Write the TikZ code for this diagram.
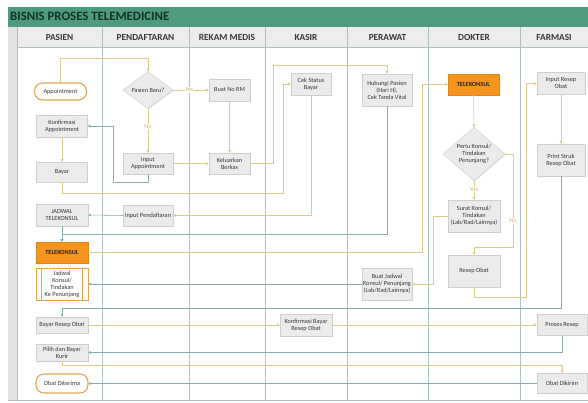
\documentclass[tikz,border=0pt]{standalone}
\usepackage{fontspec}
\setmainfont{Carlito}
\usetikzlibrary{arrows.meta,shapes.geometric,shadows}
\definecolor{titlegreen}{HTML}{4F9B7E}
\definecolor{titletext}{HTML}{16302A}
\definecolor{hdrfill}{HTML}{EDEDED}
\definecolor{stripfill}{HTML}{E3E3E3}
\definecolor{lanecol}{HTML}{AFC0C0}
\definecolor{boxfill}{HTML}{EBEBEB}
\definecolor{boxline}{HTML}{CFCFCF}
\definecolor{txtcol}{HTML}{383838}
\definecolor{yel}{HTML}{DCCB8A}
\definecolor{yeltxt}{HTML}{C8B46A}
\definecolor{teal}{HTML}{86AEAE}
\definecolor{orgfill}{HTML}{F7941E}
\definecolor{orgline}{HTML}{E3A552}
\tikzset{
  base/.style={align=center, inner sep=1pt, text=txtcol, font=\fontsize{6.3}{7}\selectfont},
  proc/.style={base, rectangle, fill=boxfill, draw=boxline, line width=0.4pt,
    drop shadow={shadow xshift=0.7pt, shadow yshift=-0.7pt, opacity=0.25}},
  term/.style={base, rectangle, rounded corners=8pt, fill=white, draw=orgline, line width=1.1pt},
  orangebox/.style={base, rectangle, fill=orgfill, draw=orgfill!90!black, line width=0.4pt,
    font=\fontsize{6.3}{7}\selectfont\bfseries, text=black!85},
  predef/.style={base, rectangle, fill=white, draw=orgline, line width=0.8pt},
  dec/.style={base, diamond, fill=boxfill, draw=boxline, line width=0.4pt, inner sep=0pt,
    drop shadow={shadow xshift=0.7pt, shadow yshift=-0.7pt, opacity=0.25}},
  wh/.style 2 args={minimum width=#1pt, minimum height=#2pt},
  yl/.style={draw=yel, line width=0.55pt, -{Triangle[length=2.6pt,width=2.6pt]}},
  tl/.style={draw=teal, line width=0.55pt, -{Triangle[length=2.6pt,width=2.6pt]}},
  lbl/.style={font=\fontsize{6}{6.5}\selectfont, text=yeltxt, fill=white, inner sep=0.6pt},
  lane/.style={draw=lanecol, line width=0.7pt},
  hdr/.style={font=\fontsize{9.3}{10}\selectfont\bfseries, text=black!78}
}
\begin{document}
\begin{tikzpicture}[x=1pt, y=-1pt]
\useasboundingbox (0,0) rectangle (588,403);
\fill[white] (0,0) rectangle (588,403);
% title bar
\fill[titlegreen] (8,7) rectangle (588,27);
\node[anchor=west, font=\fontsize{12.8}{13}\selectfont\bfseries, text=titletext, inner sep=0pt] (title) at (10,16.5) {BISNIS PROSES TELEMEDICINE};
% header and strip
\fill[hdrfill] (17,27) rectangle (588,47);
\fill[stripfill] (8,27) rectangle (17,400);
\draw[lane] (17,47) -- (588,47);
\foreach \x in {17,102,189,265,347,428,520} { \draw[lane] (\x,27) -- (\x,400); }
\draw[lane] (8,400) -- (588,400);
\node[hdr] (hpas) at (59.5,37) {PASIEN};
\node[hdr] (hpen) at (145.5,37) {PENDAFTARAN};
\node[hdr] (hrek) at (227,37) {REKAM MEDIS};
\node[hdr] (hkas) at (306,37) {KASIR};
\node[hdr] (hper) at (387.5,37) {PERAWAT};
\node[hdr] (hdok) at (474,37) {DOKTER};
\node[hdr] (hfar) at (554,37) {FARMASI};

% PASIEN
\node[term, wh={52}{17}] (appt) at (60.5,91.5) {Appointment};
\node[proc, wh={51}{22}] (konf) at (62,126) {Konfirmasi\\Appointment};
\node[proc, wh={51}{20}] (bayar) at (62,172) {Bayar};
\node[proc, wh={52}{22}] (jadwal) at (62,215) {JADWAL\\TELEKONSUL};
\node[orangebox, wh={52}{21}] (tk1) at (62,252.5) {TELEKONSUL};
\node[predef, wh={52}{32}] (jk) at (62,284) {Jadwal\\Konsul/\\Tindakan\\Ke Penunjang};
\draw[draw=orgline, line width=0.6pt] ([xshift=6pt]jk.north west) -- ([xshift=6pt]jk.south west);
\draw[draw=orgline, line width=0.6pt] ([xshift=-6pt]jk.north east) -- ([xshift=-6pt]jk.south east);
\node[proc, wh={52}{16}] (bro) at (62,325) {Bayar Resep Obat};
\node[proc, wh={52}{17}] (pilih) at (62,352.5) {Pilih dan Bayar\\Kurir};
\node[term, wh={52}{19}] (diterima) at (62,383.5) {Obat Diterima};

% PENDAFTARAN
\node[dec, wh={50}{30}] (baru) at (148,90) {Pasien Baru?};
\node[proc, wh={50}{21}] (inputa) at (148,163.5) {Input\\Appointment};
\node[proc, wh={50}{21}] (inputp) at (148,215.5) {Input Pendaftaran};

% REKAM MEDIS
\node[proc, wh={41}{22}] (rm) at (229.5,90) {Buat No RM};
\node[proc, wh={41}{21}] (berkas) at (229.5,163.5) {Keluarkan\\Berkas};

% KASIR
\node[proc, wh={40}{22}] (cek) at (311,84) {Cek Status\\Bayar};
\node[proc, wh={52}{22}] (konfb) at (306,325) {Konfirmasi Bayar\\Resep Obat};

% PERAWAT
\node[proc, wh={50}{32}] (hub) at (387,90) {Hubungi Pasien\\(Hari H),\\Cek Tanda Vital};
\node[proc, wh={50}{32}] (bj) at (387,284) {Buat Jadwal\\Konsul/ Penunjang\\(Lab/Rad/Lainnya)};

% DOKTER
\node[orangebox, wh={51}{21}] (tk2) at (473.5,84.5) {TELEKONSUL};
\node[dec, wh={62}{44}] (perlu) at (474,154) {Perlu Konsul/\\Tindakan\\Penunjang?};
\node[proc, wh={52}{32}] (surat) at (474,216) {Surat Konsul/\\Tindakan\\(Lab/Rad/Lainnya)};
\node[proc, wh={52}{32}] (resep) at (474,271) {Resep Obat};

% FARMASI
\node[proc, wh={48}{22}] (inro) at (561,83.5) {Input Resep\\Obat};
\node[proc, wh={48}{32}] (print) at (561,160) {Print Struk\\Resep Obat};
\node[proc, wh={50}{21}] (proses) at (562,325) {Proses Resep};
\node[proc, wh={50}{20}] (dikirim) at (562,383.5) {Obat Dikirim};

% connectors
\draw[yl] (appt.north) -- (appt.north |- 0,58) -- (baru.north |- 0,58) -- (baru.north);
\draw[yl] (baru.east) -- node[lbl, pos=0.45]{Yes} (rm.west);
\draw[yl] (baru.south) -- node[lbl, pos=0.4]{No} (inputa.north);
\draw[yl] (rm.south) -- (berkas.north);
\draw[yl] (inputa.east) -- (berkas.west);
\draw[tl] (inputa.south) -- (inputa.south |- 0,182) -- (113,182) |- (konf.east);
\draw[yl] (konf.south) -- (bayar.north);
\draw[yl] (bayar.south) -- (bayar.south |- 0,193) -- (283,193) |- (cek.west);
\draw[yl] (berkas.east) -- (273,163.5) -- (273,65) -| (hub.north);
\draw[yl] (cek.south) |- (inputp.east);
\draw[tl] (inputp.west) -- (jadwal.east);
\draw[tl] (jadwal.south) -- (tk1.north);
\draw[tl] (hub.south) |- (tk1.north |- 0,234) -- (tk1.north);
\draw[yl] (tk1.east) -- (422,252.5) |- (tk2.west);
\draw[yl] (tk2.south) -- (perlu.north);
\draw[yl] (perlu.south) -- node[lbl, pos=0.45]{Yes} (surat.north);
\draw[yl] (perlu.east) -- (513,154) -- node[lbl, pos=0.72]{No} (513,247) -| (resep.north);
\draw[yl] (surat.west) -- (433,216) |- (bj.east);
\draw[tl] (bj.west) -- (jk.east);
\draw[yl] (resep.south) -- (resep.south |- 0,297) -- (526,297) |- (inro.west);
\draw[yl] (inro.south) -- (print.north);
\draw[tl] (print.south) -- (print.south |- 0,308) -| (bro.north);
\draw[yl] (bro.east) -- (konfb.west);
\draw[yl] (konfb.east) -- (proses.west);
\draw[tl] (proses.south) |- (pilih.east);
\draw[yl] (pilih.south) -- (pilih.south |- 0,365) -| (dikirim.north);
\draw[tl] (dikirim.west) -- (diterima.east);
\end{tikzpicture}
\end{document}
